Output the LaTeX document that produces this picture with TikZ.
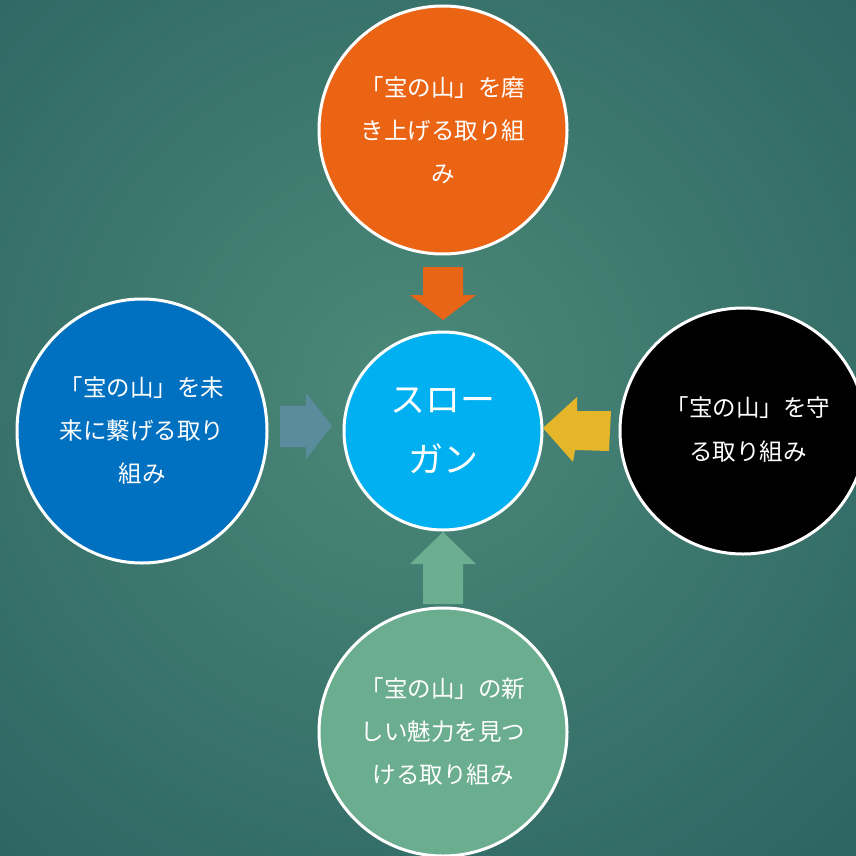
\documentclass[tikz,border=0pt]{standalone}
\usepackage{fontspec}
\newfontfamily\cjk{Noto Sans CJK JP}
\usetikzlibrary{shapes.geometric}
\definecolor{bgin}{HTML}{4B8978}
\definecolor{bgout}{HTML}{2D6563}
\definecolor{corange}{HTML}{EA6414}
\definecolor{ccyan}{HTML}{00B0F0}
\definecolor{cblue}{HTML}{0070C0}
\definecolor{cgreen}{HTML}{6BAD8F}
\definecolor{aorange}{HTML}{E86417}
\definecolor{ayellow}{HTML}{E6B62A}
\definecolor{ablue}{HTML}{5A8C9E}
\definecolor{agreen}{HTML}{6BAE90}
\tikzset{
  bubble/.style={circle, draw=white, line width=3pt, text=white, align=center, inner sep=0pt,
    font={\cjk\fontsize{23.5}{43}\selectfont}},
  hub/.style={circle, draw=white, line width=3pt, text=white, align=center, inner sep=0pt,
    font={\cjk\fontsize{35}{60}\selectfont}},
}
\begin{document}
\begin{tikzpicture}[x=1pt,y=-1pt]
\useasboundingbox (0,0) rectangle (856,856);
\clip (0,0) rectangle (856,856);
\shade[inner color=bgin, outer color=bgout] (-220,-240) rectangle (1040,1020);

% arrows
\fill[aorange] (423,267) -- (463,267) -- (463,295) -- (476,295) -- (443,320) -- (410,295) -- (423,295) -- cycle;
\fill[agreen] (443,532) -- (476,564) -- (463,564) -- (463,604) -- (423,604) -- (423,564) -- (410,564) -- cycle;
\fill[ablue] (280,406) -- (306,406) -- (306,393) -- (332,426) -- (306,459) -- (306,447) -- (280,447) -- cycle;
\fill[ayellow] (543,428) -- (577,397) -- (577,411) -- (611,411) -- (609,451) -- (575,450) -- (573,462) -- cycle;

% circles
\node[hub, fill=ccyan, minimum size=198pt] (hub) at (443,431) {スロー\\ガン};
\node[bubble, fill=corange, minimum size=248pt] (top) at (443,130) {「宝の山」を磨\\き上げる取り組\\み};
\node[bubble, fill=cgreen, minimum size=248pt] (bottom) at (443,732) {「宝の山」の新\\しい魅力を見つ\\ける取り組み};
\node[bubble, ellipse, fill=cblue, minimum width=250pt, minimum height=264pt] (left) at (142,431) {「宝の山」を未\\来に繋げる取り\\組み};
\node[bubble, fill=black, minimum size=246pt] (right) at (743,431) {};
\node[text=white, align=center, font={\cjk\fontsize{23.5}{44}\selectfont}] (righttext) at (748,430) {「宝の山」を守\\る取り組み};
\end{tikzpicture}
\end{document}
